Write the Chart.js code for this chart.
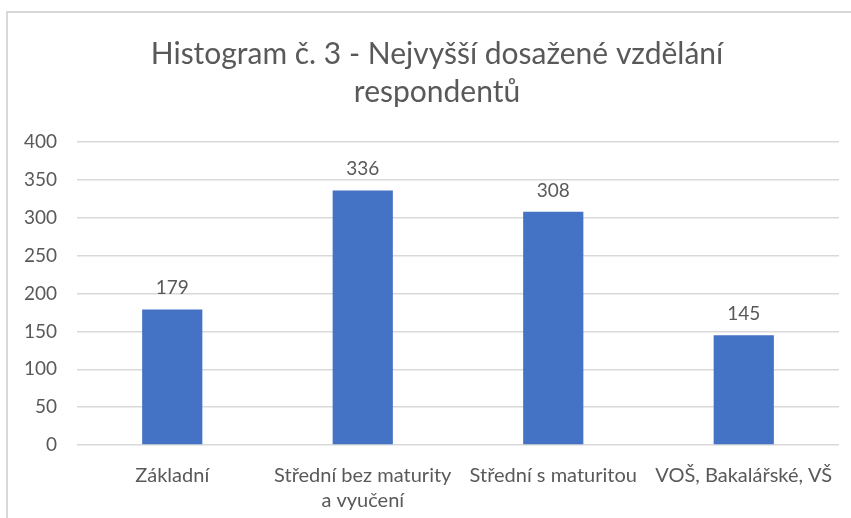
<!DOCTYPE html>
<html lang="cs">
<head>
<meta charset="utf-8">
<title>Histogram č. 3</title>
<script src="https://cdn.jsdelivr.net/npm/chart.js@4"></script>
<style>
  html, body { margin: 0; padding: 0; background: #fff; }
  #wrap { width: 851px; height: 518px; }
</style>
</head>
<body>
<div id="wrap"><canvas id="graf"></canvas></div>
<script>
// Data přečtená z obrázku
const kategorie = ['Základní', ['Střední bez maturity', 'a vyučení'], 'Střední s maturitou', 'VOŠ, Bakalářské, VŠ'];
const pocty = [179, 336, 308, 145];
const titulek = ['Histogram č. 3 - Nejvyšší dosažené vzdělání', 'respondentů'];

const SEDA_TEXT = '#595959';
const SEDA_MRIZKA = '#d9d9d9';
const MODRA = '#4472c4';
const PISMO = 'Lato, "Open Sans", sans-serif';

// rámeček grafu (vlevo a nahoře, zbytek je mimo výřez)
const ramecek = {
  id: 'ramecek',
  beforeDraw(chart) {
    const ctx = chart.ctx;
    ctx.save();
    ctx.strokeStyle = SEDA_MRIZKA;
    ctx.lineWidth = 2;
    ctx.beginPath();
    ctx.moveTo(7, 530);
    ctx.lineTo(7, 12);
    ctx.lineTo(860, 12);
    ctx.stroke();
    ctx.restore();
  }
};

// titulek kreslíme sami — vestavěný by byl vycentrovaný jinak než v Excelu
const titulekGrafu = {
  id: 'titulekGrafu',
  afterDraw(chart) {
    const ctx = chart.ctx;
    ctx.save();
    ctx.font = '30px ' + PISMO;
    ctx.fillStyle = SEDA_TEXT;
    ctx.textAlign = 'center';
    ctx.textBaseline = 'alphabetic';
    titulek.forEach((radek, i) => ctx.fillText(radek, 437, 64 + i * 38));
    ctx.restore();
  }
};

// popisky hodnot nad sloupci
const popiskyHodnot = {
  id: 'popiskyHodnot',
  afterDatasetsDraw(chart) {
    const ctx = chart.ctx;
    const meta = chart.getDatasetMeta(0);
    ctx.save();
    ctx.font = '19px ' + PISMO;
    ctx.fillStyle = SEDA_TEXT;
    ctx.textAlign = 'center';
    ctx.textBaseline = 'alphabetic';
    meta.data.forEach((sloupec, i) => {
      ctx.fillText(String(pocty[i]), sloupec.x, sloupec.y - 15);
    });
    ctx.restore();
  }
};

new Chart(document.getElementById('graf'), {
  type: 'bar',
  data: {
    labels: kategorie,
    datasets: [{
      data: pocty,
      backgroundColor: MODRA,
      borderWidth: 0,
      categoryPercentage: 1,
      barPercentage: 0.316
    }]
  },
  options: {
    responsive: true,
    maintainAspectRatio: false,
    animation: false,
    layout: { padding: { top: 142, left: 12, right: 12, bottom: 0 } },
    plugins: {
      legend: { display: false },
      tooltip: { enabled: false },
      title: { display: false }
    },
    scales: {
      x: {
        grid: { display: false },
        border: { display: false },
        ticks: {
          color: SEDA_TEXT,
          padding: 10,
          maxRotation: 0,
          autoSkip: false,
          font: { family: PISMO, size: 20, lineHeight: 1.25 }
        },
        afterFit(scale) { scale.height = 73; }
      },
      y: {
        min: 0,
        max: 400,
        border: { display: false },
        grid: { color: SEDA_MRIZKA, lineWidth: 1.5, drawTicks: false },
        ticks: {
          stepSize: 50,
          color: SEDA_TEXT,
          padding: 20,
          font: { family: PISMO, size: 19 }
        },
        afterFit(scale) { scale.width = 65; }
      }
    }
  },
  plugins: [ramecek, titulekGrafu, popiskyHodnot]
});
</script>
</body>
</html>
